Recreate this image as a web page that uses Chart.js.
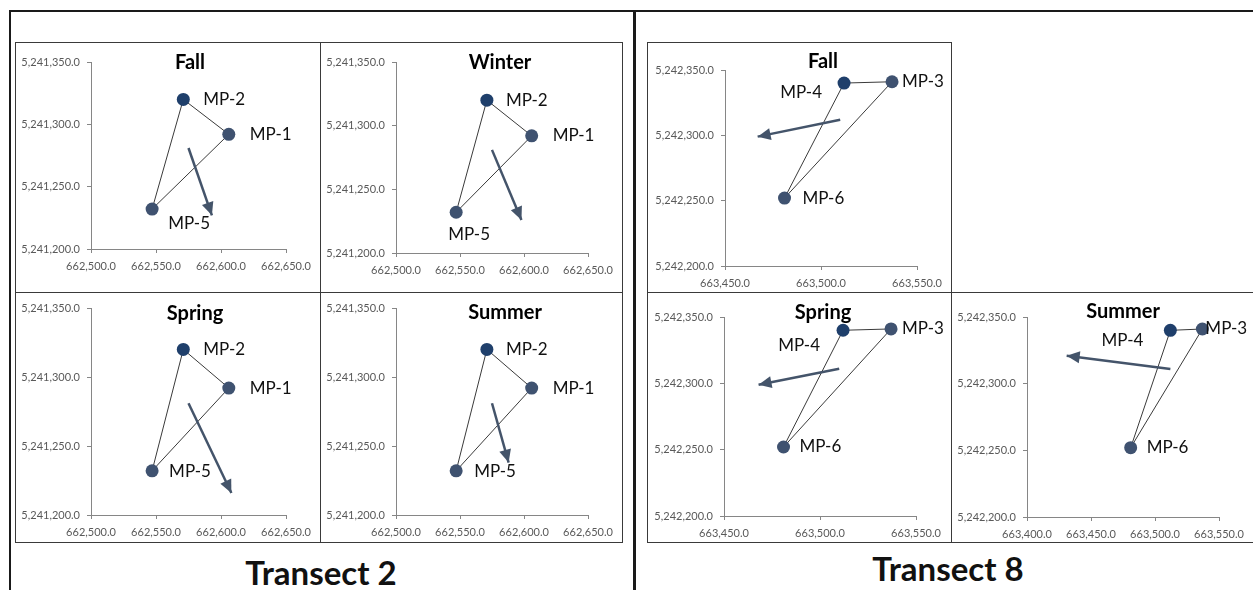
<!DOCTYPE html>
<html><head><meta charset="utf-8">
<script src="https://cdn.jsdelivr.net/npm/chart.js@4"></script>
<style>
html,body{margin:0;padding:0;background:#fff;overflow:hidden;}
#wrap{position:relative;width:1253px;height:590px;overflow:hidden;font-family:Lato,'Open Sans',sans-serif;}
.rule{position:absolute;background:#1a1a1a;}
.panel{position:absolute;box-sizing:border-box;border:1px solid #3a3a3a;pointer-events:none;}
canvas{position:absolute;}
.tr{position:absolute;font-weight:bold;font-size:33px;color:#111;transform:translate(-50%,-50%);white-space:nowrap;}
</style></head>
<body><div id="wrap"></div>
<script>
// ---------------- DATA ----------------
const transectNames = ['Transect 2', 'Transect 8'];

const t2Stations = ['MP-1', 'MP-2', 'MP-5'];
const t2Easting  = [662606, 662571, 662547];
const t2Northing = [5241292, 5241320, 5241232];
const t2Seasons  = ['Fall', 'Winter', 'Spring', 'Summer'];
const t2ArrowStartE = [662575, 662575, 662575, 662575];
const t2ArrowStartN = [5241281, 5241281, 5241281, 5241281];
const t2ArrowEndE   = [662593, 662598, 662608, 662588];
const t2ArrowEndN   = [5241227, 5241226, 5241216, 5241238];
const t2EastTicks  = [662500, 662550, 662600, 662650];
const t2NorthTicks = [5241200, 5241250, 5241300, 5241350];

const t8Stations = ['MP-3', 'MP-4', 'MP-6'];
const t8Easting  = [663537, 663512, 663481];
const t8Northing = [5242341, 5242340, 5242252];
const t8Seasons  = ['Fall', 'Spring', 'Summer'];
const t8ArrowStartE = [663510, 663510, 663512];
const t8ArrowStartN = [5242312, 5242311, 5242311];
const t8ArrowEndE   = [663467, 663468, 663431];
const t8ArrowEndN   = [5242299, 5242299, 5242321];
const t8EastTicksA = [663450, 663500, 663550];
const t8EastTicksB = [663400, 663450, 663500, 663550];
const t8NorthTicks = [5242200, 5242250, 5242300, 5242350];

// order in which stations are joined (closed loop)
const loopOrder = [1, 0, 2, 1];

// ---------------- LAYOUT / STYLE ----------------
const transects = [
  {stations:t2Stations, e:t2Easting, n:t2Northing, seasons:t2Seasons,
   ase:t2ArrowStartE, asn:t2ArrowStartN, aee:t2ArrowEndE, aen:t2ArrowEndN,
   xTicks:[t2EastTicks,t2EastTicks,t2EastTicks,t2EastTicks], yTicks:t2NorthTicks},
  {stations:t8Stations, e:t8Easting, n:t8Northing, seasons:t8Seasons,
   ase:t8ArrowStartE, asn:t8ArrowStartN, aee:t8ArrowEndE, aen:t8ArrowEndN,
   xTicks:[t8EastTicksA,t8EastTicksA,t8EastTicksB], yTicks:t8NorthTicks}
];
const darkIndex = 1; // MP-2 / MP-4 drawn darker

const panels = [
 {t:0, s:0, box:[15,42,306,251],  area:[76,20,271,207], title:[190,63],  labels:[[21,0,'left'],[20,0,'left'],[37,14,'center']]},
 {t:0, s:1, box:[320,42,303,251], area:[76,20,268,211], title:[500,63],  labels:[[21,0,'left'],[19,0,'left'],[13,22,'center']]},
 {t:0, s:2, box:[15,292,306,251], area:[76,16,271,223], title:[195,314], labels:[[21,0,'left'],[20,0,'left'],[17,1,'left']]},
 {t:0, s:3, box:[320,292,303,251],area:[76,16,268,223], title:[505,313], labels:[[21,0,'left'],[19,0,'left'],[18,1,'left']]},
 {t:1, s:0, box:[647,42,305,251], area:[78,28,270,224], title:[823,62],  labels:[[10,0,'left'],[-22,9,'right'],[18,0,'left']]},
 {t:1, s:1, box:[647,292,305,251],area:[77,25,269,224], title:[823,313], labels:[[11,0,'left'],[-23,15,'right'],[16,0,'left']]},
 {t:1, s:2, box:[951,292,320,251],area:[76,25,268,225], title:[1123,312],labels:[[3,0,'left'],[-27,10,'right'],[16,0,'left']]}
];

const wrap = document.getElementById('wrap');
function addDiv(cls, css, text){
  const d = document.createElement('div'); d.className = cls;
  Object.assign(d.style, css); if (text) d.textContent = text;
  wrap.appendChild(d); return d;
}
// outer frame rules
addDiv('rule', {left:'9px', top:'10px', width:'1244px', height:'2px'});
addDiv('rule', {left:'9px', top:'10px', width:'2px', height:'580px'});
addDiv('rule', {left:'633px', top:'10px', width:'3px', height:'580px'});
// transect captions
addDiv('tr', {left:'321px', top:'572px'}, transectNames[0]);
addDiv('tr', {left:'948px', top:'568px'}, transectNames[1]);

const fmt = v => v.toLocaleString('en-US', {minimumFractionDigits:1, maximumFractionDigits:1});
const AX = '#868686', TICKC = '#595959';

const decorPlugin = {
  id: 'decor',
  afterDatasetsDraw(chart, args, o) {
    const ctx = chart.ctx;
    // arrow head
    const am = chart.getDatasetMeta(2).data;
    const p0 = am[0], p1 = am[1];
    const ang = Math.atan2(p1.y - p0.y, p1.x - p0.x);
    const L = 13, W = 6;
    ctx.save();
    ctx.fillStyle = '#44546A';
    ctx.beginPath();
    ctx.moveTo(p1.x, p1.y);
    ctx.lineTo(p1.x - L*Math.cos(ang) + W*Math.sin(ang), p1.y - L*Math.sin(ang) - W*Math.cos(ang));
    ctx.lineTo(p1.x - L*Math.cos(ang) - W*Math.sin(ang), p1.y - L*Math.sin(ang) + W*Math.cos(ang));
    ctx.closePath(); ctx.fill();
    // station labels
    const pm = chart.getDatasetMeta(0).data;
    ctx.font = '17px Lato';
    ctx.fillStyle = '#111';
    ctx.textBaseline = 'middle';
    o.names.forEach((nm, i) => {
      const [dx, dy, al] = o.labels[i];
      ctx.textAlign = al;
      ctx.fillText(nm, pm[i].x + dx, pm[i].y + dy);
    });
    // season title
    ctx.font = 'bold 20px Lato';
    ctx.textAlign = 'center';
    ctx.fillStyle = '#000';
    ctx.fillText(o.title, o.titlePos[0], o.titlePos[1]);
    ctx.restore();
  }
};

panels.forEach(p => {
  const T = transects[p.t];
  const [bx, by, bw, bh] = p.box;
  const [al, at, ar, ab] = p.area;
  const cv = document.createElement('canvas');
  cv.width = bw; cv.height = bh;
  cv.style.left = bx + 'px'; cv.style.top = by + 'px';
  wrap.appendChild(cv);
  addDiv('panel', {left:bx+'px', top:by+'px', width:bw+'px', height:bh+'px'});

  const xT = T.xTicks[p.s], yT = T.yTicks;
  const s = p.s;
  const pts = T.stations.map((_, i) => ({x:T.e[i], y:T.n[i]}));
  const loop = loopOrder.map(i => ({x:T.e[i], y:T.n[i]}));
  const arrow = [{x:T.ase[s], y:T.asn[s]}, {x:T.aee[s], y:T.aen[s]}];
  const colors = T.stations.map((_, i) => i === darkIndex ? '#1F3F6B' : '#3F5270');

  new Chart(cv, {
    type: 'scatter',
    data: { datasets: [
      {data: pts, showLine:false, pointRadius:6.5, pointHoverRadius:6.5, pointBackgroundColor:colors, pointBorderWidth:0, order:0},
      {data: loop, showLine:true, borderColor:'#3a3a3a', borderWidth:1, pointRadius:0, order:2},
      {data: arrow, showLine:true, borderColor:'#44546A', borderWidth:2.5, pointRadius:0, order:1}
    ]},
    options: {
      responsive:false, animation:false, devicePixelRatio:1,
      events: [],
      layout: {padding:{left:0, top:at, right:bw-ar, bottom:0}},
      plugins: {
        legend:{display:false}, tooltip:{enabled:false},
        decor: {names:T.stations, labels:p.labels, title:T.seasons[s], titlePos:[p.title[0]-bx, p.title[1]-by]}
      },
      scales: {
        x: {type:'linear', position:'bottom', min:xT[0], max:xT[xT.length-1],
            afterBuildTicks: sc => { sc.ticks = xT.map(v => ({value:v})); },
            afterFit: sc => { sc.height = bh - ab; },
            grid:{display:true, drawOnChartArea:false, drawTicks:true, tickLength:4, color:AX},
            border:{display:true, color:AX, width:1},
            ticks:{callback:v => fmt(v), font:{family:'Lato', size:11}, color:TICKC, padding:7, maxRotation:0, autoSkip:false}},
        y: {type:'linear', position:'left', min:yT[0], max:yT[yT.length-1],
            afterBuildTicks: sc => { sc.ticks = yT.map(v => ({value:v})); },
            afterFit: sc => { sc.width = al; },
            grid:{display:true, drawOnChartArea:false, drawTicks:true, tickLength:4, color:AX},
            border:{display:true, color:AX, width:1},
            ticks:{callback:v => fmt(v), font:{family:'Lato', size:11}, color:TICKC, padding:7, autoSkip:false}}
      }
    },
    plugins: [decorPlugin]
  });
});
</script>
</body></html>
